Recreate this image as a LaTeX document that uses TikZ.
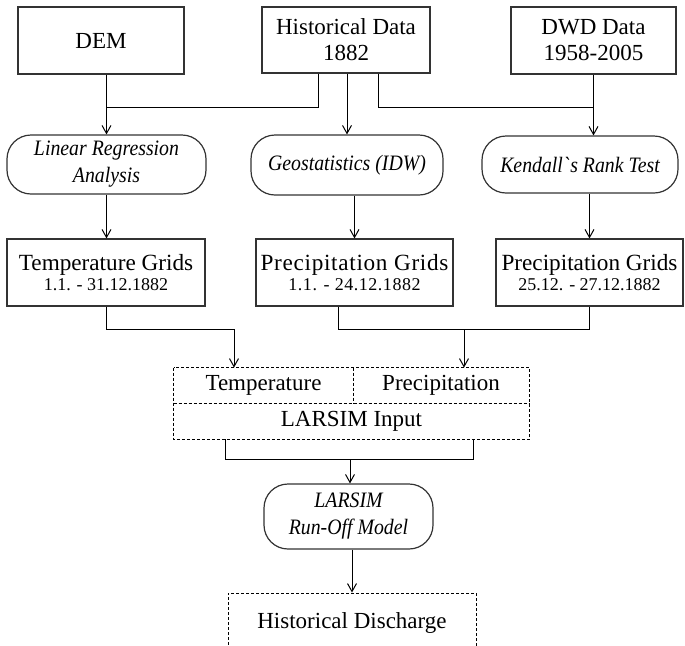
\documentclass[tikz,border=0pt]{standalone}
\usepackage{fontspec}
\setmainfont{Liberation Serif}[ItalicFeatures={FakeStretch=0.9}]
\usetikzlibrary{arrows.meta}

\begin{document}
\begin{tikzpicture}[x=0.5pt,y=-0.5pt,
	font=\fontsize{11.5pt}{13pt}\selectfont,
	box/.style={draw=black!80,line width=0.6pt,fill=white,align=center,inner sep=0pt},
	proc/.style={box,rounded corners=12pt,font=\fontsize{11pt}{13.5pt}\selectfont\itshape},
	grid/.style={box,minimum height=33.5pt,font=\fontsize{11.6pt}{10pt}\selectfont},
	cell/.style={dash pattern=on 1.5pt off 1pt,line width=0.5pt},
	flow/.style={line width=0.5pt},
	arr/.style={flow,-{Straight Barb[length=4pt,width=4.5pt]}}]
		\useasboundingbox (0,0) rectangle (685,645);
		% sources
		\node[box,minimum width=83pt,minimum height=33.5pt] (dem) at (101,40.5) {DEM};
		\node[box,minimum width=84pt,minimum height=33pt] (hist) at (346,40) {Historical Data\\1882};
		\node[box,minimum width=82.5pt,minimum height=33.5pt] (dwd) at (593.5,40.5) {DWD Data\\1958-2005};
		\coordinate (j1) at (106,107);
		\coordinate (j2) at (593,107);
		% methods
		\node[proc,minimum width=99.5pt,minimum height=29.5pt] (linreg) at (106.5,164.5) {Linear Regression\\Analysis};
		\node[proc,minimum width=96pt,minimum height=30pt] (geo) at (347,165) {Geostatistics (IDW)};
		\node[proc,minimum width=98pt,minimum height=28.5pt] (kendall) at (580,164.5) {Kendall\textasciigrave s Rank Test};
		% grids
		\node[grid,minimum width=99pt] (tgrid) at (106,272.5) {Temperature Grids\\{\fontsize{9pt}{11pt}\selectfont 1.1. - 31.12.1882}};
		\node[grid,minimum width=98.5pt,font=\fontsize{11.6pt}{10pt}\selectfont\addfontfeature{LetterSpace=3}] (pgrid1) at (354.5,272.5) {Precipitation Grids\\{\fontsize{9pt}{11pt}\selectfont 1.1. - 24.12.1882}};
		\node[grid,minimum width=93.5pt] (pgrid2) at (589.5,272.5) {Precipitation Grids\\{\fontsize{9pt}{11pt}\selectfont 25.12. - 27.12.1882}};
		\coordinate (j3) at (234,329);
		\coordinate (j4) at (464,329);
		% model input
		\node[minimum width=89.5pt,minimum height=17.5pt,inner sep=0pt] (temp) at (263.5,385.5) {Temperature};
		\node[minimum width=88pt,minimum height=17.5pt,inner sep=0pt] (prec) at (441,385.5) {Precipitation};
		\node[minimum width=177.5pt,minimum height=18pt,inner sep=0pt] (inp) at (351.5,421) {LARSIM Input};
		\draw[cell] (temp.north west) rectangle (inp.south east);
		\draw[cell] (temp.south west) to (prec.south east);
		\draw[cell] (temp.north east) to (temp.south east);
		\coordinate (j5) at (350,459);
		% model and result
		\node[proc,minimum width=84.5pt,minimum height=32.5pt] (larsim) at (348.5,516.5) {LARSIM\\Run-Off Model};
		\node[draw,cell,minimum width=124pt,minimum height=30pt,inner sep=0pt] (disch) at (352,623) {Historical Discharge};
		% connectors
		\draw[arr] (dem.south -| linreg.north) to (linreg.north);
		\draw[flow] ([xshift=-14pt]hist.south) |- (j1);
		\draw[flow] ([xshift=16pt]hist.south) |- (j2);
		\draw[arr] (hist.south -| geo.north) to (geo.north);
		\draw[arr] (dwd.south) to (dwd.south |- kendall.north);
		\draw[arr] (linreg.south) to (linreg.south |- tgrid.north);
		\draw[arr] (geo.south -| pgrid1.north) to (pgrid1.north);
		\draw[arr] (kendall.south -| pgrid2.north) to (pgrid2.north);
		\draw[flow] (tgrid.south) |- (j3);
		\draw[arr] (j3) to (j3 |- temp.north);
		\draw[flow] ([xshift=-8.25pt]pgrid1.south) |- (j4) -| (pgrid2.south);
		\draw[arr] (j4) to (j4 |- prec.north);
		\draw[flow] ([xshift=-63pt]inp.south) |- (j5) -| ([xshift=61pt]inp.south);
		\draw[arr] (j5) to (j5 |- larsim.north);
		\draw[arr] (larsim.south -| disch.north) to (disch.north);
	\end{tikzpicture}
\end{document}
